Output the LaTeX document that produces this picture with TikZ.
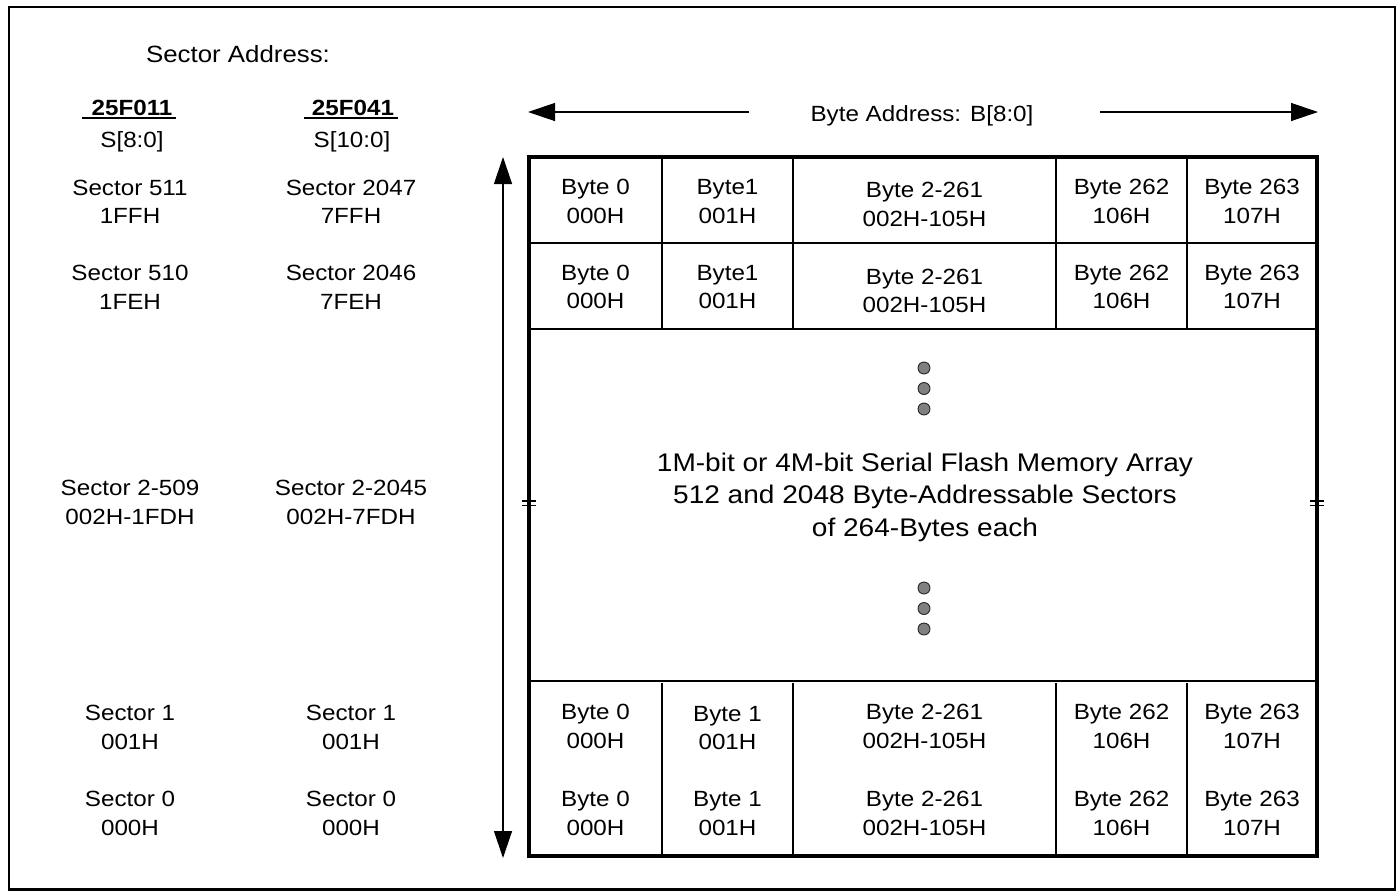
\documentclass[tikz,border=0pt]{standalone}
\usepackage{fontspec}
\setmainfont{Liberation Sans}[FakeStretch=1.1]
\usetikzlibrary{arrows.meta}
\begin{document}
\begin{tikzpicture}[x=1pt,y=-1pt,
  txt/.style={font=\fontsize{22}{28.5}\selectfont, align=center, inner sep=0pt},
  bigtxt/.style={font=\fontsize{25.5}{32.5}\selectfont, inner sep=0pt, anchor=base},
  thinline/.style={line width=1.3pt},
  boxline/.style={line width=4pt},
  tick/.style={line width=1.5pt},
  tipT/.style={-{Triangle[length=27pt,width=18pt]}},
  arr/.style={line width=1.3pt},
  dot/.style={circle, fill=black!50, draw=black!85, line width=0.9pt, minimum size=12pt, inner sep=0pt}]

\useasboundingbox (0,0) rectangle (1399,892);
\draw[line width=2.5pt] (9,7) rectangle (1395,889.5);

% ---- header ----
\node[txt, font=\fontsize{23.5}{28}\selectfont] (sa) at (238,54) {Sector Address:};
\node[txt, font=\bfseries\fontsize{22}{28.5}\selectfont, anchor=base] (p1) at (132,115) {25F011};
\node[txt, font=\bfseries\fontsize{22}{28.5}\selectfont, anchor=base] (p2) at (353,115) {25F041};
\draw[line width=2pt] (82,117.5) -- (176,117.5);
\draw[line width=2pt] (304,117.5) -- (398,117.5);
\node[txt, anchor=base] (s1) at (132,147) {S[8:0]};
\node[txt, anchor=base] (s2) at (352,147) {S[10:0]};

\node[txt, anchor=base] (ba) at (922,121) {Byte Address: B[8:0]};
\coordinate (la) at (749,112);
\coordinate (lt) at (528,112);
\coordinate (ra) at (1100,112);
\coordinate (rt) at (1318,112);
\draw[arr, tipT] (la) -- (lt);
\draw[arr, tipT] (ra) -- (rt);

% vertical arrow
\coordinate (vt) at (503,157);
\coordinate (vb) at (503,858);
\draw[arr, {Triangle[length=27pt,width=18pt]}-{Triangle[length=27pt,width=18pt]}] (vt) -- (vb);

% ---- sector column ----
\node[txt] (l1) at (130,202) {Sector 511\\1FFH};
\node[txt] (l2) at (130,287.5) {Sector 510\\1FEH};
\node[txt] (l3) at (130,502.5) {Sector 2-509\\002H-1FDH};
\node[txt] (l4) at (130,727.5) {Sector 1\\001H};
\node[txt] (l5) at (130,813.5) {Sector 0\\000H};
\node[txt] (r1) at (351,202) {Sector 2047\\7FFH};
\node[txt] (r2) at (351,287.5) {Sector 2046\\7FEH};
\node[txt] (r3) at (351,502.5) {Sector 2-2045\\002H-7FDH};
\node[txt] (r4) at (351,727.5) {Sector 1\\001H};
\node[txt] (r5) at (351,813.5) {Sector 0\\000H};

% ---- grid ----
\draw[thinline] (529,243) -- (1317,243);
\draw[thinline] (529,329) -- (1317,329);
\draw[thinline] (529,681) -- (1317,681);
\foreach \x in {662,793,1056,1187} {
  \draw[thinline] (\x,157) -- (\x,329);
  \draw[thinline] (\x,683) -- (\x,856);
}
\draw[boxline] (529,157) rectangle (1317,856);
% break ticks
\draw[tick] (522,501) -- (536,501);
\draw[tick] (522,505.5) -- (536,505.5);
\draw[tick] (1310,501) -- (1324,501);
\draw[tick] (1310,505.5) -- (1324,505.5);

% ---- byte cells ----
\node[txt] (a1) at (595.5,201.5) {Byte 0\\000H};
\node[txt] (a2) at (727.5,201.5) {Byte1\\001H};
\node[txt] (a3) at (924.5,204.5) {Byte 2-261\\002H-105H};
\node[txt] (a4) at (1121.5,201.5) {Byte 262\\106H};
\node[txt] (a5) at (1252,201.5) {Byte 263\\107H};

\node[txt] (b1) at (595.5,287) {Byte 0\\000H};
\node[txt] (b2) at (727.5,287) {Byte1\\001H};
\node[txt] (b3) at (924.5,291) {Byte 2-261\\002H-105H};
\node[txt] (b4) at (1121.5,287) {Byte 262\\106H};
\node[txt] (b5) at (1252,287) {Byte 263\\107H};

\node[txt] (c1) at (595.5,726.5) {Byte 0\\000H};
\node[txt] (c2) at (727.5,728) {Byte 1\\001H};
\node[txt] (c3) at (924.5,726.5) {Byte 2-261\\002H-105H};
\node[txt] (c4) at (1121.5,726.5) {Byte 262\\106H};
\node[txt] (c5) at (1252,726.5) {Byte 263\\107H};

\node[txt] (e1) at (595.5,813.5) {Byte 0\\000H};
\node[txt] (e2) at (727.5,813.5) {Byte 1\\001H};
\node[txt] (e3) at (924.5,813.5) {Byte 2-261\\002H-105H};
\node[txt] (e4) at (1121.5,813.5) {Byte 262\\106H};
\node[txt] (e5) at (1252,813.5) {Byte 263\\107H};

% ---- middle ----
\node[dot] (d1) at (924,368) {};
\node[dot] (d2) at (924,388.5) {};
\node[dot] (d3) at (924,409) {};
\node[dot] (d4) at (924,588) {};
\node[dot] (d5) at (924,608.5) {};
\node[dot] (d6) at (924,629) {};

\node[bigtxt] (m1) at (925,471) {1M-bit or 4M-bit Serial Flash Memory Array};
\node[bigtxt] (m2) at (925,503.5) {512 and 2048 Byte-Addressable Sectors};
\node[bigtxt] (m3) at (925,536) {of 264-Bytes each};
\end{tikzpicture}
\end{document}
